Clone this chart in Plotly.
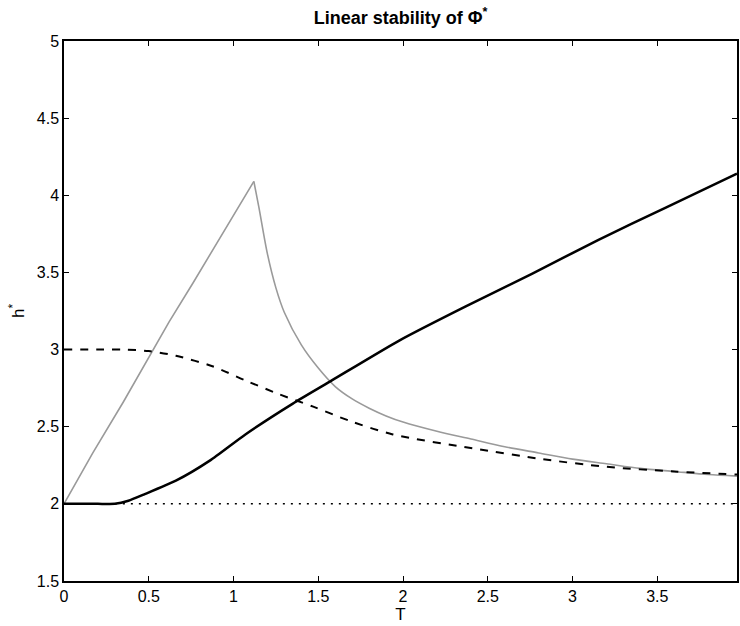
import plotly.graph_objects as go

# --- data ---
T_solid = [0, 0.1, 0.2, 0.3, 0.38, 0.47, 0.66, 0.86, 1.07, 1.35, 1.58, 1.98, 2.37, 2.76, 3.15, 3.55, 3.97]
h_solid = [2.0, 2.0, 2.0, 2.0, 2.02, 2.06, 2.15, 2.28, 2.45, 2.65, 2.80, 3.06, 3.28, 3.49, 3.71, 3.92, 4.14]

T_dash = [0, 0.2, 0.35, 0.5, 0.66, 0.88, 1.07, 1.27, 1.47, 1.68, 1.94, 2.41, 2.82, 3.2, 3.6, 3.97]
h_dash = [3.0, 3.0, 3.0, 2.99, 2.96, 2.89, 2.80, 2.71, 2.63, 2.54, 2.45, 2.36, 2.29, 2.24, 2.21, 2.19]

# grey curve: rising branch and decaying branch (share the peak)
T_gray_rise = [0, 0.17, 0.35, 0.49, 0.62, 0.76, 0.92, 1.12]
h_gray_rise = [2.0, 2.33, 2.66, 2.93, 3.18, 3.43, 3.72, 4.09]
T_gray_fall = [1.12, 1.15, 1.2, 1.25, 1.3, 1.4, 1.5, 1.6, 1.7, 1.8, 1.9, 2.0, 2.2, 2.4,
               2.6, 2.8, 3.0, 3.2, 3.4, 3.6, 3.8, 3.97]
h_gray_fall = [4.09, 3.92, 3.62, 3.40, 3.24, 3.03, 2.88, 2.76, 2.68, 2.62, 2.57, 2.53, 2.47, 2.42,
               2.37, 2.33, 2.29, 2.26, 2.23, 2.21, 2.19, 2.18]

T_dot = [0.3, 3.97]
h_dot = [2.0, 2.0]

x_ticks = [0, 0.5, 1, 1.5, 2, 2.5, 3, 3.5]
y_ticks = [1.5, 2, 2.5, 3, 3.5, 4, 4.5, 5]

FONT = "Liberation Sans, Arial, Helvetica, sans-serif"
GRAY = "#9a9a9a"

fig = go.Figure()
fig.add_trace(go.Scatter(x=T_dot, y=h_dot, mode="lines",
                         line=dict(color="black", width=1.5, dash="2px,6px"), showlegend=False))
fig.add_trace(go.Scatter(x=T_gray_rise, y=h_gray_rise, mode="lines",
                         line=dict(color=GRAY, width=1.6), showlegend=False))
fig.add_trace(go.Scatter(x=T_gray_fall, y=h_gray_fall, mode="lines",
                         line=dict(color=GRAY, width=1.6, shape="spline", smoothing=0.8), showlegend=False))
fig.add_trace(go.Scatter(x=T_dash, y=h_dash, mode="lines",
                         line=dict(color="black", width=2, dash="8px,8px", shape="spline", smoothing=0.8),
                         showlegend=False))
fig.add_trace(go.Scatter(x=T_solid, y=h_solid, mode="lines",
                         line=dict(color="black", width=2.5, shape="spline", smoothing=0.6),
                         showlegend=False))

axis_common = dict(showgrid=False, zeroline=False, showline=True, linecolor="black",
                   linewidth=1.5, mirror="ticks", ticks="inside", ticklen=5,
                   tickcolor="black", tickfont=dict(family=FONT, size=16, color="black"))

fig.update_layout(
    width=740, height=626,
    margin=dict(l=64, r=1, t=41, b=45),
    paper_bgcolor="white", plot_bgcolor="white",
    title=dict(text="<b>Linear stability of Φ<sup>*</sup></b>", x=0.5, xref="paper",
               y=0.972, yref="container", yanchor="middle",
               font=dict(family=FONT, size=18, color="black")),
    xaxis=dict(range=[0, 3.97], tickvals=x_ticks, ticktext=[str(v) for v in x_ticks],
               title=dict(text="T", font=dict(family=FONT, size=17, color="black"), standoff=0),
               **axis_common),
    yaxis=dict(range=[1.5, 5], tickvals=y_ticks, ticktext=[str(v) for v in y_ticks],
               title=dict(text="h<sup>*</sup>", font=dict(family=FONT, size=17, color="black"), standoff=8),
               **axis_common),
)

fig.write_html("out.html")
